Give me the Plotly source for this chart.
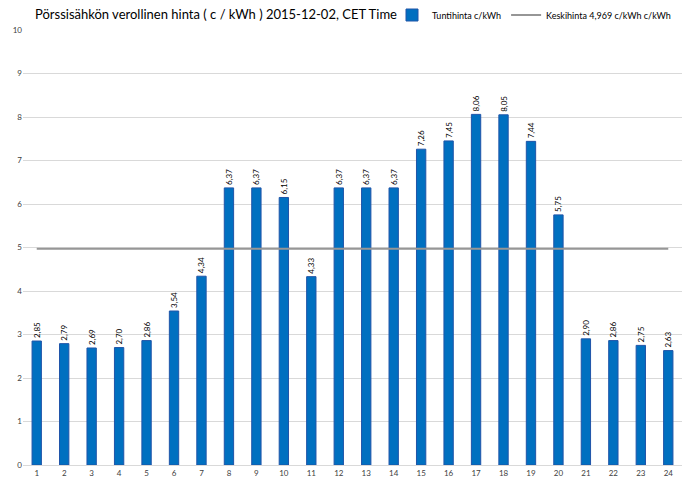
import plotly.graph_objects as go

hours = list(range(1, 25))
prices = [2.85, 2.79, 2.69, 2.70, 2.86, 3.54, 4.34, 6.37, 6.37, 6.15, 4.33, 6.37,
          6.37, 6.37, 7.26, 7.45, 8.06, 8.05, 7.44, 5.75, 2.90, 2.86, 2.75, 2.63]
average = 4.969
title = "Pörssisähkön verollinen hinta ( c / kWh ) 2015-12-02, CET Time"
bar_name = "Tuntihinta c/kWh"
line_name = "Keskihinta 4,969 c/kWh c/kWh"

FONT = "Lato"

fig = go.Figure()
fig.add_trace(go.Bar(
    x=hours, y=prices, name=bar_name,
    marker=dict(color="#0070C0", line=dict(color="#1F54A8", width=1)),
    texttemplate="%{y:.2f}", textposition="outside", textangle=-90,
    textfont=dict(family=FONT, size=8, color="#000000"),
    cliponaxis=False,
))
fig.add_trace(go.Scatter(
    x=hours, y=[average] * len(hours), name=line_name, mode="lines",
    line=dict(color="#969696", width=2),
))

fig.update_layout(
    width=700, height=495,
    separators=",.",
    plot_bgcolor="white", paper_bgcolor="white",
    margin=dict(l=23, r=18, t=30, b=30, autoexpand=False),
    bargap=0.66,
    uniformtext=dict(minsize=8, mode="show"),
    font=dict(family=FONT, size=8, color="#404040"),
    title=dict(text=title, x=35 / 700, xanchor="left", y=1 - 14 / 495, yanchor="middle",
               font=dict(family=FONT, size=13, color="#000000")),
    legend=dict(orientation="h", x=392 / 700, xanchor="left",
                xref="container", yref="container", y=1 - 15 / 495, yanchor="middle",
                font=dict(family=FONT, size=9, color="#000000"),
                tracegroupgap=0, traceorder="normal"),
    xaxis=dict(tickmode="array", tickvals=hours, range=[0.5, 24.5], automargin=False,
               showgrid=False, showline=True, linecolor="#D9D9D9", linewidth=1,
               ticks="", tickfont=dict(family=FONT, size=8, color="#404040")),
    yaxis=dict(range=[0, 10], dtick=1, showgrid=True, gridcolor="#D9D9D9", automargin=False,
               gridwidth=1, zeroline=False, ticks="",
               tickfont=dict(family=FONT, size=8, color="#404040")),
)

fig.write_html("out.html", config={"displayModeBar": False},
               post_script="document.body.style.margin='0';document.body.style.padding='0';")
